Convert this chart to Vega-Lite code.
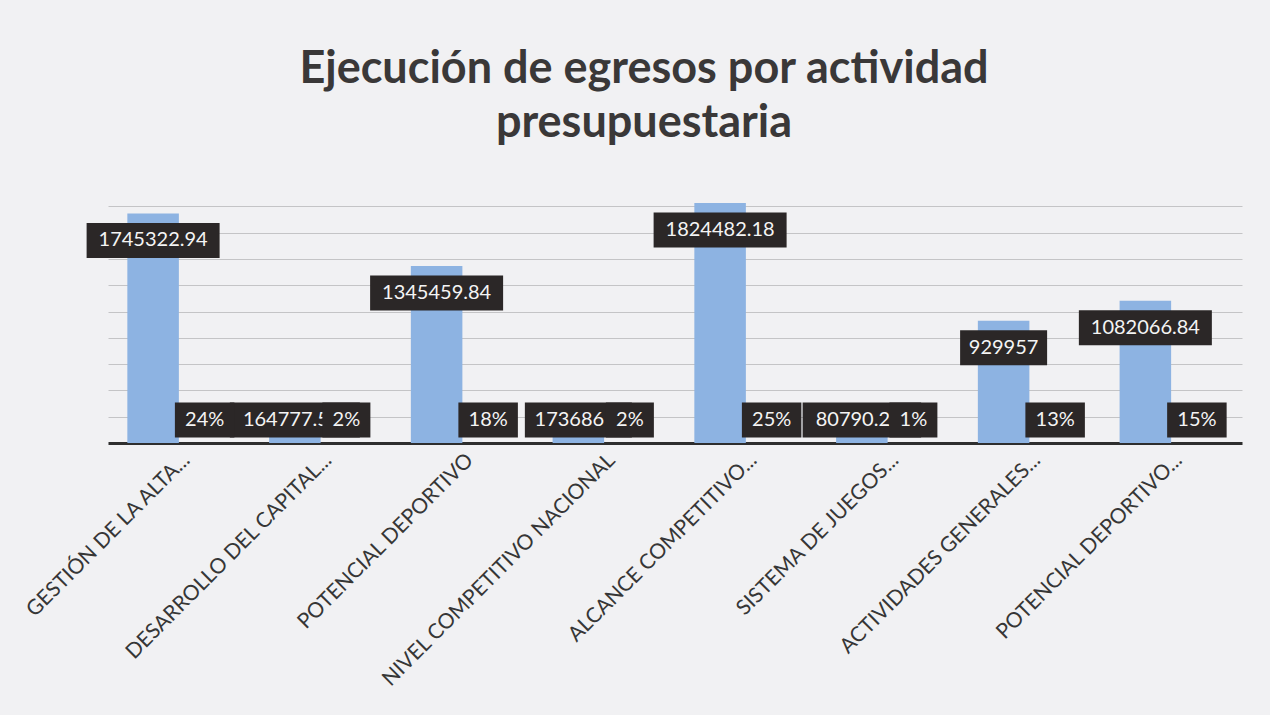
{
  "$schema": "https://vega.github.io/schema/vega-lite/v6.json",
  "autosize": "none",
  "width": 1134,
  "height": 263,
  "padding": {"left": 108, "top": 180, "right": 28, "bottom": 272},
  "background": "#f1f1f3",
  "title": {
    "text": ["Ejecución de egresos por actividad", "presupuestaria"],
    "font": "Lato",
    "fontSize": 45,
    "fontWeight": "bold",
    "color": "#3a3838",
    "lineHeight": 54,
    "anchor": "middle",
    "dx": -31,
    "offset": 34
  },
  "data": {
    "values": [
      {"actividad": "GESTIÓN DE LA ALTA...", "serie": "Valor", "valor": 1745322.94, "etiqueta": "1745322.94"},
      {"actividad": "GESTIÓN DE LA ALTA...", "serie": "Porcentaje", "valor": 0.24, "etiqueta": "24%"},
      {"actividad": "DESARROLLO DEL CAPITAL...", "serie": "Valor", "valor": 164777.5, "etiqueta": "164777.5"},
      {"actividad": "DESARROLLO DEL CAPITAL...", "serie": "Porcentaje", "valor": 0.02, "etiqueta": "2%"},
      {"actividad": "POTENCIAL DEPORTIVO", "serie": "Valor", "valor": 1345459.84, "etiqueta": "1345459.84"},
      {"actividad": "POTENCIAL DEPORTIVO", "serie": "Porcentaje", "valor": 0.18, "etiqueta": "18%"},
      {"actividad": "NIVEL COMPETITIVO NACIONAL", "serie": "Valor", "valor": 173686, "etiqueta": "173686"},
      {"actividad": "NIVEL COMPETITIVO NACIONAL", "serie": "Porcentaje", "valor": 0.02, "etiqueta": "2%"},
      {"actividad": "ALCANCE COMPETITIVO...", "serie": "Valor", "valor": 1824482.18, "etiqueta": "1824482.18"},
      {"actividad": "ALCANCE COMPETITIVO...", "serie": "Porcentaje", "valor": 0.25, "etiqueta": "25%"},
      {"actividad": "SISTEMA DE JUEGOS...", "serie": "Valor", "valor": 80790.2, "etiqueta": "80790.2"},
      {"actividad": "SISTEMA DE JUEGOS...", "serie": "Porcentaje", "valor": 0.01, "etiqueta": "1%"},
      {"actividad": "ACTIVIDADES GENERALES...", "serie": "Valor", "valor": 929957, "etiqueta": "929957"},
      {"actividad": "ACTIVIDADES GENERALES...", "serie": "Porcentaje", "valor": 0.13, "etiqueta": "13%"},
      {"actividad": "POTENCIAL DEPORTIVO...", "serie": "Valor", "valor": 1082066.84, "etiqueta": "1082066.84"},
      {"actividad": "POTENCIAL DEPORTIVO...", "serie": "Porcentaje", "valor": 0.15, "etiqueta": "15%"}
    ]
  },
  "encoding": {
    "x": {
      "field": "actividad",
      "type": "nominal",
      "sort": null,
      "scale": {"paddingInner": 0.273, "paddingOuter": 0.1365},
      "axis": {
        "title": null,
        "labelAngle": -45,
        "labelAlign": "right",
        "labelBaseline": "top",
        "labelFont": "Lato",
        "labelFontSize": 21,
        "labelColor": "#363636",
        "labelPadding": 6,
        "labelOffset": 0,
        "labelLimit": 500,
        "ticks": false,
        "domainColor": "#2e2e2e",
        "domainWidth": 3,
        "grid": false
      }
    },
    "xOffset": {
      "field": "serie",
      "type": "nominal",
      "sort": ["Valor", "Porcentaje"],
      "scale": {"paddingInner": 0, "paddingOuter": 0}
    }
  },
  "layer": [
    {
      "mark": {"type": "bar", "color": "#8db3e2"},
      "encoding": {
        "y": {
          "field": "valor",
          "type": "quantitative",
          "title": null,
          "scale": {"domain": [0, 2000000], "nice": false},
          "axis": {"values": [200000, 400000, 600000, 800000, 1000000, 1200000, 1400000, 1600000, 1800000], "labelOverlap": false}
        }
      }
    },
    {
      "transform": [{"filter": "datum.serie === 'Valor' && datum.valor > 380000"}],
      "mark": {"type": "tick", "color": "#2b2727", "thickness": 35, "yOffset": 27, "opacity": 1},
      "encoding": {
        "y": {"field": "valor", "type": "quantitative", "title": null, "axis": {"values": [200000, 400000, 600000, 800000, 1000000, 1200000, 1400000, 1600000, 1800000], "labelOverlap": false}},
        "size": {"value": {"expr": "length(datum.etiqueta) * 11.5 + 18"}}
      }
    },
    {
      "transform": [{"filter": "datum.serie === 'Valor' && datum.valor > 380000"}],
      "mark": {"type": "text", "color": "#f4f4f4", "font": "Lato", "fontSize": 20, "yOffset": 27, "baseline": "middle", "align": "center"},
      "encoding": {
        "y": {"field": "valor", "type": "quantitative", "title": null, "axis": {"values": [200000, 400000, 600000, 800000, 1000000, 1200000, 1400000, 1600000, 1800000], "labelOverlap": false}},
        "text": {"field": "etiqueta"}
      }
    },
    {
      "transform": [{"filter": "datum.serie === 'Valor' && datum.valor <= 380000"}],
      "mark": {"type": "tick", "color": "#2b2727", "thickness": 35, "opacity": 1},
      "encoding": {
        "y": {"datum": 175000, "type": "quantitative", "title": null, "axis": {"values": [200000, 400000, 600000, 800000, 1000000, 1200000, 1400000, 1600000, 1800000], "labelOverlap": false}},
        "size": {"value": {"expr": "length(datum.etiqueta) * 11.5 + 38"}}
      }
    },
    {
      "transform": [{"filter": "datum.serie === 'Valor' && datum.valor <= 380000"}],
      "mark": {"type": "text", "color": "#f4f4f4", "font": "Lato", "fontSize": 20, "baseline": "middle", "align": "center", "dx": -9},
      "encoding": {
        "y": {"datum": 175000, "type": "quantitative", "title": null, "axis": {"values": [200000, 400000, 600000, 800000, 1000000, 1200000, 1400000, 1600000, 1800000], "labelOverlap": false}},
        "text": {"field": "etiqueta"}
      }
    },
    {
      "transform": [{"filter": "datum.serie === 'Porcentaje'"}],
      "mark": {"type": "tick", "color": "#2b2727", "thickness": 35, "opacity": 1},
      "encoding": {
        "y": {"datum": 175000, "type": "quantitative", "title": null, "axis": {"values": [200000, 400000, 600000, 800000, 1000000, 1200000, 1400000, 1600000, 1800000], "labelOverlap": false}},
        "size": {"value": {"expr": "length(datum.etiqueta) * 11.5 + 25"}}
      }
    },
    {
      "transform": [{"filter": "datum.serie === 'Porcentaje'"}],
      "mark": {"type": "text", "color": "#f4f4f4", "font": "Lato", "fontSize": 20, "baseline": "middle", "align": "center"},
      "encoding": {
        "y": {"datum": 175000, "type": "quantitative", "title": null, "axis": {"values": [200000, 400000, 600000, 800000, 1000000, 1200000, 1400000, 1600000, 1800000], "labelOverlap": false}},
        "text": {"field": "etiqueta"}
      }
    }
  ],
  "config": {
    "view": {"stroke": null},
    "axisY": {
      "grid": true,
      "labels": false,
      "ticks": false,
      "domain": false,
      "gridColor": "#c4c4c6",
      "gridWidth": 1
    }
  }
}
